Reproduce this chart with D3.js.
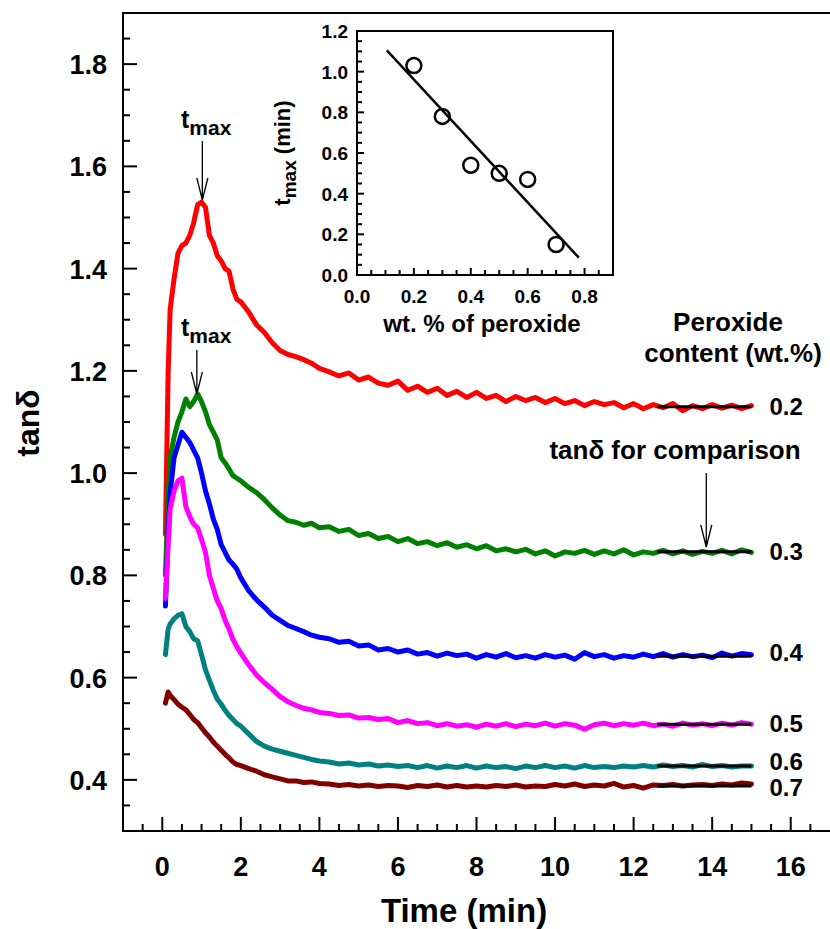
<!DOCTYPE html>
<html lang="en">
<head>
<meta charset="UTF-8">
<title>tan delta vs time</title>
<script src="https://d3js.org/d3.v7.min.js"></script>
<style>
  body { margin: 0; background: #fff; }
  svg { display: block; font-family: Arial, "Liberation Sans", sans-serif; font-weight: bold; }
  .curve { fill: none; stroke-width: 5px; stroke-linejoin: round; stroke-linecap: round; }
  .frame { fill: none; stroke: #000; stroke-width: 2px; }
  .tick { stroke: #000; stroke-width: 2px; }
</style>
</head>
<body>
<svg width="830" height="929"></svg>
<script>
// shared time grid (min)
var times = [0.08, 0.15, 0.2, 0.3, 0.4, 0.5, 0.6, 0.7, 0.8, 0.9, 1.0, 1.1, 1.2, 1.3, 1.4, 1.5, 1.6, 1.7, 1.8, 1.9, 2.0,
  2.2, 2.4, 2.6, 2.8, 3.0, 3.2, 3.4, 3.6, 3.8, 4.0,
  4.25, 4.5, 4.75, 5.0, 5.25, 5.5, 5.75, 6.0, 6.25, 6.5, 6.75, 7.0, 7.25, 7.5, 7.75, 8.0, 8.25, 8.5, 8.75, 9.0,
  9.25, 9.5, 9.75, 10.0, 10.25, 10.5, 10.75, 11.0, 11.25, 11.5, 11.75, 12.0, 12.25, 12.5, 12.75, 13.0,
  13.25, 13.5, 13.75, 14.0, 14.25, 14.5, 14.75, 15.0];

var tan02 = [0.88, 1.20, 1.32, 1.38, 1.43, 1.445, 1.45, 1.465, 1.49, 1.525, 1.53, 1.52, 1.465, 1.45, 1.425, 1.415, 1.40, 1.395, 1.36, 1.34, 1.335,
  1.315, 1.29, 1.275, 1.255, 1.24, 1.232, 1.228, 1.222, 1.215, 1.205,
  1.198, 1.19, 1.196, 1.182, 1.188, 1.176, 1.172, 1.18, 1.162, 1.17, 1.158, 1.166, 1.152, 1.16, 1.148, 1.158, 1.146, 1.152, 1.14, 1.15,
  1.142, 1.148, 1.138, 1.146, 1.136, 1.142, 1.132, 1.14, 1.134, 1.138, 1.128, 1.136, 1.126, 1.134, 1.128, 1.136,
  1.122, 1.132, 1.126, 1.134, 1.127, 1.133, 1.126, 1.132];

var tan03 = [0.80, 0.95, 1.03, 1.07, 1.10, 1.12, 1.145, 1.13, 1.14, 1.155, 1.14, 1.12, 1.095, 1.08, 1.065, 1.03, 1.02, 1.008, 0.995, 0.99, 0.985,
  0.972, 0.962, 0.948, 0.932, 0.918, 0.907, 0.904, 0.898, 0.902, 0.893,
  0.895, 0.886, 0.89, 0.878, 0.882, 0.872, 0.876, 0.866, 0.872, 0.862, 0.866, 0.858, 0.864, 0.855, 0.86, 0.852, 0.858, 0.848, 0.852, 0.846,
  0.851, 0.842, 0.848, 0.838, 0.846, 0.843, 0.849, 0.841, 0.848, 0.842, 0.85, 0.84, 0.846, 0.843, 0.849, 0.842,
  0.848, 0.841, 0.847, 0.843, 0.849, 0.842, 0.85, 0.845];

var tan04 = [0.74, 0.88, 0.96, 1.03, 1.055, 1.08, 1.07, 1.06, 1.045, 1.03, 1.0, 0.965, 0.94, 0.91, 0.89, 0.86, 0.845, 0.83, 0.822, 0.812, 0.795,
  0.77, 0.752, 0.738, 0.722, 0.712, 0.702, 0.696, 0.69, 0.683, 0.679,
  0.676, 0.669, 0.671, 0.662, 0.664, 0.654, 0.657, 0.65, 0.654, 0.646, 0.649, 0.642, 0.648, 0.643, 0.646, 0.638, 0.645, 0.64, 0.647, 0.639,
  0.643, 0.638, 0.645, 0.64, 0.644, 0.636, 0.649, 0.641, 0.645, 0.638, 0.643, 0.64, 0.646, 0.641, 0.647, 0.64,
  0.645, 0.641, 0.644, 0.639, 0.648, 0.642, 0.647, 0.645];

var tan05 = [0.755, 0.86, 0.93, 0.965, 0.985, 0.99, 0.935, 0.915, 0.90, 0.893, 0.87, 0.845, 0.80, 0.775, 0.75, 0.735, 0.712, 0.695, 0.675, 0.66, 0.648,
  0.625, 0.605, 0.59, 0.577, 0.563, 0.553, 0.546, 0.54, 0.537, 0.532,
  0.53, 0.526, 0.527, 0.521, 0.522, 0.518, 0.52, 0.512, 0.516, 0.51, 0.512, 0.506, 0.51, 0.505, 0.508, 0.503, 0.509, 0.505, 0.51, 0.504,
  0.509, 0.506, 0.511, 0.505, 0.51, 0.507, 0.499, 0.508, 0.511, 0.506, 0.51, 0.507, 0.511, 0.506, 0.509, 0.505,
  0.511, 0.507, 0.51, 0.506, 0.511, 0.507, 0.512, 0.509];

var tan06 = [0.645, 0.695, 0.705, 0.715, 0.722, 0.725, 0.70, 0.69, 0.676, 0.672, 0.645, 0.615, 0.595, 0.575, 0.558, 0.548, 0.536, 0.526, 0.518, 0.51, 0.505,
  0.49, 0.475, 0.466, 0.46, 0.456, 0.452, 0.448, 0.444, 0.44, 0.437,
  0.435, 0.431, 0.433, 0.429, 0.431, 0.427, 0.429, 0.426, 0.428, 0.424, 0.428, 0.423, 0.427, 0.424, 0.428, 0.423, 0.427, 0.424, 0.426, 0.422,
  0.427, 0.424, 0.428, 0.424, 0.427, 0.423, 0.428, 0.424, 0.426, 0.424, 0.427, 0.425, 0.428, 0.425, 0.429, 0.426,
  0.428, 0.425, 0.43, 0.426, 0.428, 0.425, 0.427, 0.427];

var tan07 = [0.55, 0.572, 0.565, 0.557, 0.548, 0.542, 0.537, 0.528, 0.518, 0.512, 0.502, 0.492, 0.484, 0.474, 0.466, 0.458, 0.45, 0.443, 0.435, 0.43, 0.428,
  0.422, 0.417, 0.41, 0.406, 0.402, 0.398, 0.398, 0.395, 0.396, 0.393,
  0.392, 0.389, 0.391, 0.388, 0.39, 0.387, 0.389, 0.388, 0.385, 0.389, 0.387, 0.39, 0.386, 0.389, 0.386, 0.388, 0.386, 0.389, 0.387, 0.39,
  0.386, 0.388, 0.387, 0.391, 0.388, 0.392, 0.387, 0.39, 0.388, 0.393, 0.386, 0.389, 0.384, 0.39, 0.389, 0.391,
  0.388, 0.39, 0.391, 0.389, 0.392, 0.39, 0.394, 0.392];

var peroxideLabels = ["0.2", "0.3", "0.4", "0.5", "0.6", "0.7"];
var seriesValues = [tan02, tan03, tan04, tan05, tan06, tan07];
var seriesColors = ["#ff0000", "#008000", "#0000ff", "#ff00ff", "#008080", "#800000"];

// plateau tan delta used for comparison (black segments)
var plateauValues = [1.13, 0.846, 0.642, 0.509, 0.427, 0.388];
var plateauRange = [12.6, 15.0];

var xTickValues = [0, 2, 4, 6, 8, 10, 12, 14, 16];
var yTickValues = [0.4, 0.6, 0.8, 1.0, 1.2, 1.4, 1.6, 1.8];

// inset: t_max vs peroxide content
var insetWt = [0.2, 0.3, 0.4, 0.5, 0.6, 0.7];
var insetTmax = [1.03, 0.78, 0.54, 0.50, 0.47, 0.15];
var fitWt = [0.105, 0.78];
var fitTmax = [1.105, 0.085];
var insetXTicks = [0.0, 0.2, 0.4, 0.6, 0.8];
var insetYTicks = [0.0, 0.2, 0.4, 0.6, 0.8, 1.0, 1.2];

var svg = d3.select("svg");

var x = d3.scaleLinear().domain([-1, 17]).range([123, 830]);
var y = d3.scaleLinear().domain([0.3, 1.9]).range([831, 13]);

// frame (left, top, bottom)
svg.append("path").attr("class", "frame")
    .attr("d", "M830," + y(1.9) + "H" + x(-1) + "V" + y(0.3) + "H830");

// minor + major ticks, pointing inward
var xMinor = d3.range(-0.5, 17, 0.5);
svg.append("g").selectAll("line").data(xMinor).enter().append("line")
    .attr("class", "tick")
    .attr("x1", function(d) { return x(d); }).attr("x2", function(d) { return x(d); })
    .attr("y1", y(0.3))
    .attr("y2", function(d) { return y(0.3) - (Math.abs(d % 2) < 1e-6 ? 14 : 7); });

var yMinor = d3.range(0.35, 1.86, 0.05);
svg.append("g").selectAll("line").data(yMinor).enter().append("line")
    .attr("class", "tick")
    .attr("y1", function(d) { return y(d); }).attr("y2", function(d) { return y(d); })
    .attr("x1", x(-1))
    .attr("x2", function(d) {
        var major = yTickValues.some(function(t) { return Math.abs(t - d) < 1e-6; });
        return x(-1) + (major ? 14 : 7);
    });

svg.append("g").selectAll("text").data(xTickValues).enter().append("text")
    .attr("x", function(d) { return x(d); })
    .attr("y", 876)
    .attr("text-anchor", "middle")
    .attr("font-size", 27)
    .text(function(d) { return d; });

svg.append("g").selectAll("text").data(yTickValues).enter().append("text")
    .attr("x", 107)
    .attr("y", function(d) { return y(d) + 10; })
    .attr("text-anchor", "end")
    .attr("font-size", 27)
    .text(function(d) { return d.toFixed(1); });

// axis titles
svg.append("text")
    .attr("x", 464).attr("y", 922)
    .attr("text-anchor", "middle")
    .attr("font-size", 33)
    .text("Time (min)");

svg.append("text")
    .attr("transform", "translate(39,423) rotate(-90)")
    .attr("text-anchor", "middle")
    .attr("font-size", 32)
    .text("tanδ");

// curves
var line = d3.line()
    .x(function(d, i) { return x(times[i]); })
    .y(function(d) { return y(d); });

svg.append("g").selectAll("path").data(seriesValues).enter().append("path")
    .attr("class", "curve")
    .attr("stroke", function(d, i) { return seriesColors[i]; })
    .attr("d", line);

// comparison segments
svg.append("g").selectAll("line").data(plateauValues).enter().append("line")
    .attr("x1", x(plateauRange[0])).attr("x2", x(plateauRange[1]))
    .attr("y1", function(d) { return y(d); }).attr("y2", function(d) { return y(d); })
    .attr("stroke", "#000").attr("stroke-width", 3);

// series labels (0.6 / 0.7 pushed apart a little, as in the original)
var labelShift = [0, 0, -3, 0, -4, 2];
svg.append("g").selectAll("text").data(plateauValues).enter().append("text")
    .attr("x", x(plateauRange[1]) + 18)
    .attr("y", function(d, i) { return y(d) + 8 + labelShift[i]; })
    .attr("font-size", 24)
    .text(function(d, i) { return peroxideLabels[i]; });

svg.append("text").attr("x", 728).attr("y", 331)
    .attr("text-anchor", "middle").attr("font-size", 26).text("Peroxide");
svg.append("text").attr("x", 733).attr("y", 362)
    .attr("text-anchor", "middle").attr("font-size", 26).text("content (wt.%)");

svg.append("text").attr("x", 675).attr("y", 459)
    .attr("text-anchor", "middle").attr("font-size", 26).text("tanδ for comparison");

function arrow(ax, y1, y2) {
    svg.append("path")
        .attr("d", "M" + ax + "," + y1 + "V" + y2 + "M" + (ax - 5.5) + "," + (y2 - 22) + "L" + ax + "," + y2 + "L" + (ax + 5.5) + "," + (y2 - 22))
        .attr("fill", "none").attr("stroke", "#000").attr("stroke-width", 1.3);
}
arrow(x(13.85), 473, 547);

function tmaxLabel(lx, ly) {
    var t = svg.append("text").attr("x", lx).attr("y", ly).attr("font-size", 25);
    t.append("tspan").text("t");
    t.append("tspan").attr("dy", 7).attr("font-size", 21).text("max");
}
tmaxLabel(181, 128);
arrow(x(1.02), 141, 200);
tmaxLabel(181, 336);
arrow(x(0.88), 350, 394);

// ---- inset ----
var ix = d3.scaleLinear().domain([0, 0.9]).range([357, 613]);
var iy = d3.scaleLinear().domain([0, 1.2]).range([275, 31]);

svg.append("rect")
    .attr("x", ix(0)).attr("y", iy(1.2))
    .attr("width", ix(0.9) - ix(0)).attr("height", iy(0) - iy(1.2))
    .attr("fill", "#fff").attr("stroke", "#000").attr("stroke-width", 2);

svg.append("g").selectAll("line").data(d3.range(0.05, 0.9, 0.05)).enter().append("line")
    .attr("class", "tick").attr("stroke-width", 1.5)
    .attr("x1", function(d) { return ix(d); }).attr("x2", function(d) { return ix(d); })
    .attr("y1", iy(0))
    .attr("y2", function(d) { return iy(0) - (Math.abs(d * 5 - Math.round(d * 5)) < 1e-6 ? 7 : 5); });

svg.append("g").selectAll("line").data(d3.range(0.05, 1.2, 0.05)).enter().append("line")
    .attr("class", "tick").attr("stroke-width", 1.5)
    .attr("y1", function(d) { return iy(d); }).attr("y2", function(d) { return iy(d); })
    .attr("x1", ix(0))
    .attr("x2", function(d) { return ix(0) + (Math.abs(d * 5 - Math.round(d * 5)) < 1e-6 ? 7 : 5); });

svg.append("g").selectAll("text").data(insetXTicks).enter().append("text")
    .attr("x", function(d) { return ix(d); })
    .attr("y", 303)
    .attr("text-anchor", "middle")
    .attr("font-size", 19)
    .text(function(d) { return d.toFixed(1); });

svg.append("g").selectAll("text").data(insetYTicks).enter().append("text")
    .attr("x", 348)
    .attr("y", function(d) { return iy(d) + 7; })
    .attr("text-anchor", "end")
    .attr("font-size", 19)
    .text(function(d) { return d.toFixed(1); });

svg.append("text")
    .attr("x", 482).attr("y", 332)
    .attr("text-anchor", "middle")
    .attr("font-size", 24)
    .text("wt. % of peroxide");

var yl = svg.append("text")
    .attr("transform", "translate(290,153) rotate(-90)")
    .attr("text-anchor", "middle")
    .attr("font-size", 22);
yl.append("tspan").text("t");
yl.append("tspan").attr("dy", 6).attr("font-size", 19).text("max");
yl.append("tspan").attr("dy", -6).text(" (min)");

svg.append("line")
    .attr("x1", ix(fitWt[0])).attr("y1", iy(fitTmax[0]))
    .attr("x2", ix(fitWt[1])).attr("y2", iy(fitTmax[1]))
    .attr("stroke", "#000").attr("stroke-width", 2.5);

svg.append("g").selectAll("circle").data(insetWt).enter().append("circle")
    .attr("cx", function(d) { return ix(d); })
    .attr("cy", function(d, i) { return iy(insetTmax[i]); })
    .attr("r", 7.5)
    .attr("fill", "none")
    .attr("stroke", "#000")
    .attr("stroke-width", 2.5);
</script>
</body>
</html>
